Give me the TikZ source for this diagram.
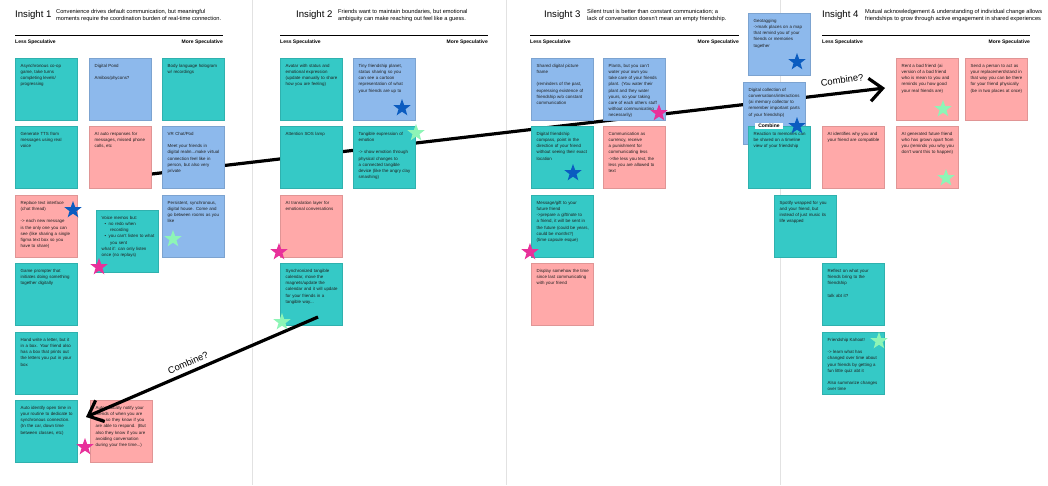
\documentclass[tikz,border=0pt]{standalone}
\usepackage{fontspec}
\setmainfont{Liberation Sans}
\usetikzlibrary{shapes.geometric,arrows.meta}
\definecolor{teal1}{HTML}{35C9C6}
\definecolor{blue1}{HTML}{8DB9EC}
\definecolor{pink1}{HTML}{FFA9A9}
\definecolor{starblue}{HTML}{0B5CC0}
\definecolor{starpink}{HTML}{E8309A}
\definecolor{stargreen}{HTML}{8DF5B6}
\definecolor{sepgray}{HTML}{E2E2E2}
\tikzset{
  note/.style={rectangle, anchor=north west, minimum width=62pt, minimum height=62pt,
    inner sep=0pt, draw=#1!88!black, line width=0.4pt, fill=#1},
  notetext/.style={anchor=north west, inner sep=0pt, text width=52.5pt, align=left,
    font=\fontsize{4.4}{6.1}\selectfont, text=black!88},
  stardeco/.style={star, star points=5, star point ratio=2.45, minimum size=18pt,
    inner sep=0pt, fill=#1},
  bigarrow/.style={line width=3.2pt, -{Straight Barb[length=13pt,width=23pt]}},
  title/.style={anchor=base west, inner sep=0pt, font=\fontsize{9.6}{11}\selectfont},
  desc/.style={anchor=north west, inner sep=0pt, align=left, font=\fontsize{5.7}{6.7}\selectfont},
  spec/.style={inner sep=0pt, font=\bfseries\fontsize{5}{6}\selectfont},
  combinelbl/.style={font=\fontsize{9.4}{11}\selectfont, inner sep=0pt},
  sepline/.style={draw=sepgray, line width=1pt},
  rule/.style={draw=black, line width=1pt}
}
\newcommand{\stickynote}[5]{%
  \node[note=#4] (#1) at (#2,#3) {};
  \node[notetext] (#1t) at ([xshift=5.5pt,yshift=-6.3pt]#1.north west) {#5};
}
\hyphenpenalty=10000
\exhyphenpenalty=10000
\begin{document}
\hyphenpenalty=10000
\exhyphenpenalty=10000
\begin{tikzpicture}[x=1pt,y=-1pt]
\useasboundingbox (0,0) rectangle (1048,485);
\fill[white] (0,0) rectangle (1048,485);

% separators
\coordinate (s1a) at (252,0); \coordinate (s1b) at (252,485);
\coordinate (s2a) at (506,0); \coordinate (s2b) at (506,485);
\coordinate (s3a) at (780,0); \coordinate (s3b) at (780,485);
\draw[sepline] (s1a) -- (s1b);
\draw[sepline] (s2a) -- (s2b);
\draw[sepline] (s3a) -- (s3b);

% headers
\node[title] (t1) at (15,17.3) {Insight 1};
\node[desc] (d1) at (56,9.2) {Convenience drives default communication, but meaningful\\moments require the coordination burden of real-time connection.};
\coordinate (r1a) at (15,35); \coordinate (r1b) at (223,35);
\draw[rule] (r1a) -- (r1b);
\node[spec, anchor=base west] (l1) at (15,43.3) {Less Speculative};
\node[spec, anchor=base east] (m1) at (223,43.3) {More Speculative};

\node[title] (t2) at (296,17.3) {Insight 2};
\node[desc] (d2) at (338,9.2) {Friends want to maintain boundaries, but emotional\\ambiguity can make reaching out feel like a guess.};
\coordinate (r2a) at (280,35); \coordinate (r2b) at (488,35);
\draw[rule] (r2a) -- (r2b);
\node[spec, anchor=base west] (l2) at (280,43.3) {Less Speculative};
\node[spec, anchor=base east] (m2) at (488,43.3) {More Speculative};

\node[title] (t3) at (544,17.3) {Insight 3};
\node[desc] (d3) at (587,9.2) {Silent trust is better than constant communication; a\\lack of conversation doesn't mean an empty friendship.};
\coordinate (r3a) at (530,35); \coordinate (r3b) at (739,35);
\draw[rule] (r3a) -- (r3b);
\node[spec, anchor=base west] (l3) at (530,43.3) {Less Speculative};
\node[spec, anchor=base east] (m3) at (739,43.3) {More Speculative};

\node[title] (t4) at (822,17.3) {Insight 4};
\node[desc] (d4) at (865,9.2) {Mutual acknowledgement \& understanding of individual change allows\\friendships to grow through active engagement in shared experiences};
\coordinate (r4a) at (822,35); \coordinate (r4b) at (1030,35);
\draw[rule] (r4a) -- (r4b);
\node[spec, anchor=base west] (l4) at (822,43.3) {Less Speculative};
\node[spec, anchor=base east] (m4) at (1030,43.3) {More Speculative};

% long arrow (behind notes)
\coordinate (a1s) at (150,174.2);
\coordinate (a1e) at (885,88);
\draw[bigarrow] (a1s) -- (a1e);

% Insight 1 notes
\stickynote{n11}{15}{58}{teal1}{Asynchronous co-op game, take turns completing levels/ progressing}
\stickynote{n12}{89}{58}{blue1}{Digital Pond\\[6.1pt]Amibos/phycons?}
\stickynote{n13}{162}{58}{teal1}{Body language hologram w/ recordings}
\stickynote{n14}{15}{126}{teal1}{Generate TTS from messages using real voice}
\stickynote{n15}{89}{126}{pink1}{AI auto responses for messages, missed phone calls, etc}
\stickynote{n16}{162}{126}{blue1}{VR Chat/Pod\\[6.1pt]Meet your friends in digital realm...make virtual connection feel like in person, but also very private}
\stickynote{n17}{15}{195}{pink1}{Replace text interface (chat thread)\\[6.1pt]-> each new message is the only one you can see (like sharing a single figma text box so you have to share)}
\node[note=teal1] (n18) at (96,210) {};
\node[notetext, text width=58pt] (n18t) at ([xshift=5.5pt,yshift=-6.3pt]n18.north west) {Voice memos but:\\
\hspace*{3pt}\textbullet\hspace{2.5pt}no redo when\\
\hspace*{8.5pt}recording\\
\hspace*{3pt}\textbullet\hspace{2.5pt}you can't listen to what\\
\hspace*{8.5pt}you sent\\
*what if: can only listen\\once (no replays)};
\stickynote{n19}{162}{195}{blue1}{Persistent, synchronous, digital house. Come and go between rooms as you like}
\stickynote{n1a}{15}{263}{teal1}{Game prompter that initiates doing something together digitally}
\stickynote{n1b}{15}{332}{teal1}{Hand write a letter, but it in a box. Your friend also has a box that prints out the letters you put in your box}
\stickynote{n1c}{15}{400}{teal1}{Auto identify open time in your routine to dedicate to synchronous connection. (In the car, down time between classes, etc)}
\stickynote{n1d}{90}{400}{pink1}{Automatically notify your friends of when you are free, so they know if you are able to respond. (But also they know if you are avoiding conversation during your free time...)}

% Insight 2 notes
\stickynote{n21}{280}{58}{teal1}{Avatar with status and emotional expression (update manually to share how you are feeling)}
\stickynote{n22}{353}{58}{blue1}{Tiny friendship planet, status sharing so you can see a cartoon representation of what your friends are up to}
\stickynote{n23}{280}{126}{teal1}{Attention SOS lamp}
\stickynote{n24}{353}{126}{teal1}{Tangible expression of emotion\\[6.1pt]-> show emotion through physical changes to a connected tangible device (like the angry clay smashing)}
\stickynote{n25}{280}{195}{pink1}{AI translation layer for emotional conversations}
\stickynote{n26}{280}{263}{teal1}{Synchronized tangible calendar, move the magnets/update the calendar and it will update for your friends in a tangible way...}

% Insight 3 notes
\stickynote{n31}{531}{58}{blue1}{Shared digital picture frame\\[6.1pt](reminders of the past, expressing existence of friendship w/o constant communication}
\stickynote{n32}{603}{58}{blue1}{Plants, but you can't water your own you take care of your friends plant. (You water their plant and they water yours, so your taking care of each others stuff without communicating necessarily)}
\stickynote{n33}{531}{126}{teal1}{Digital friendship compass, point in the direction of your friend without seeing their exact location}
\stickynote{n34}{603}{126}{pink1}{Communication as currency, receive a punishment for communicating less\\->the less you text, the less you are allowed to text}
\stickynote{n35}{531}{195}{teal1}{Message/gift to your future friend\\->prepare a gift/note to a friend, it will be sent in the future (could be years, could be months?)\\(time capsule esque)}
\stickynote{n36}{531}{263}{pink1}{Display somehow the time since last communicating with your friend}
\stickynote{n37}{748}{13}{blue1}{Geotagging\\->mark places on a map that remind you of your friends or memories together}
\stickynote{n38}{743}{82}{blue1}{Digital collection of conversations/interactions (ai memory collector to remember important parts of your friendship)}
\stickynote{n39}{748}{126}{teal1}{Reaction to memories can be shared on a timeline view of your friendship}

% Insight 4 notes
\stickynote{n41}{896}{58}{pink1}{Rent a bad friend (ai version of a bad friend who is mean to you and reminds you how good your real friends are)}
\stickynote{n42}{965}{58}{pink1}{Send a person to act as your replacement/stand in that way you can be there for your friend physically (be in two places at once)}
\stickynote{n43}{822}{126}{pink1}{AI identifies why you and your friend are compatible}
\stickynote{n44}{896}{126}{pink1}{AI generated future friend who has grown apart from you (reminds you why you don't want this to happen)}
\stickynote{n45}{774}{195}{teal1}{Spotify wrapped for you and your friend, but instead of just music its life wrapped}
\stickynote{n46}{822}{263}{teal1}{Reflect on what your friends bring to the friendship\\[6.1pt]talk abt it?}
\stickynote{n47}{822}{332}{teal1}{Friendship Kahoot!\\[6.1pt]-> learn what has changed over time about your friends by getting a fun little quiz abt it\\[6.1pt]Also summarize changes over time}

% combine label
\node[fill=white, inner xsep=3pt, inner ysep=1pt, font=\bfseries\fontsize{5}{6}\selectfont] (cmb) at (769,126) {Combine};

% second arrow (on top)
\coordinate (a2s) at (318,317);
\coordinate (a2e) at (86,417);
\draw[bigarrow] (a2s) -- (a2e);

% labels
\node[combinelbl, rotate=8] (c1) at (842,80) {Combine?};
\node[combinelbl, rotate=23] (c2) at (188,363) {Combine?};

% stars
\node[stardeco=starblue] (st1) at (73,210) {};
\node[stardeco=stargreen] (st2) at (173,239) {};
\node[stardeco=starpink] (st3) at (99,267) {};
\node[stardeco=starpink] (st4) at (85,447) {};
\node[stardeco=starblue] (st5) at (402,108) {};
\node[stardeco=stargreen] (st6) at (416,133) {};
\node[stardeco=starpink] (st7) at (279,252) {};
\node[stardeco=stargreen] (st8) at (282,322) {};
\node[stardeco=starpink] (st9) at (659,113) {};
\node[stardeco=starblue] (st10) at (573,173) {};
\node[stardeco=starpink] (st11) at (530,252) {};
\node[stardeco=starblue] (st12) at (797,62) {};
\node[stardeco=starblue] (st13) at (797,126) {};
\node[stardeco=stargreen] (st14) at (943,109) {};
\node[stardeco=stargreen] (st15) at (946,178) {};
\node[stardeco=stargreen] (st16) at (879,341) {};
\end{tikzpicture}
\end{document}
